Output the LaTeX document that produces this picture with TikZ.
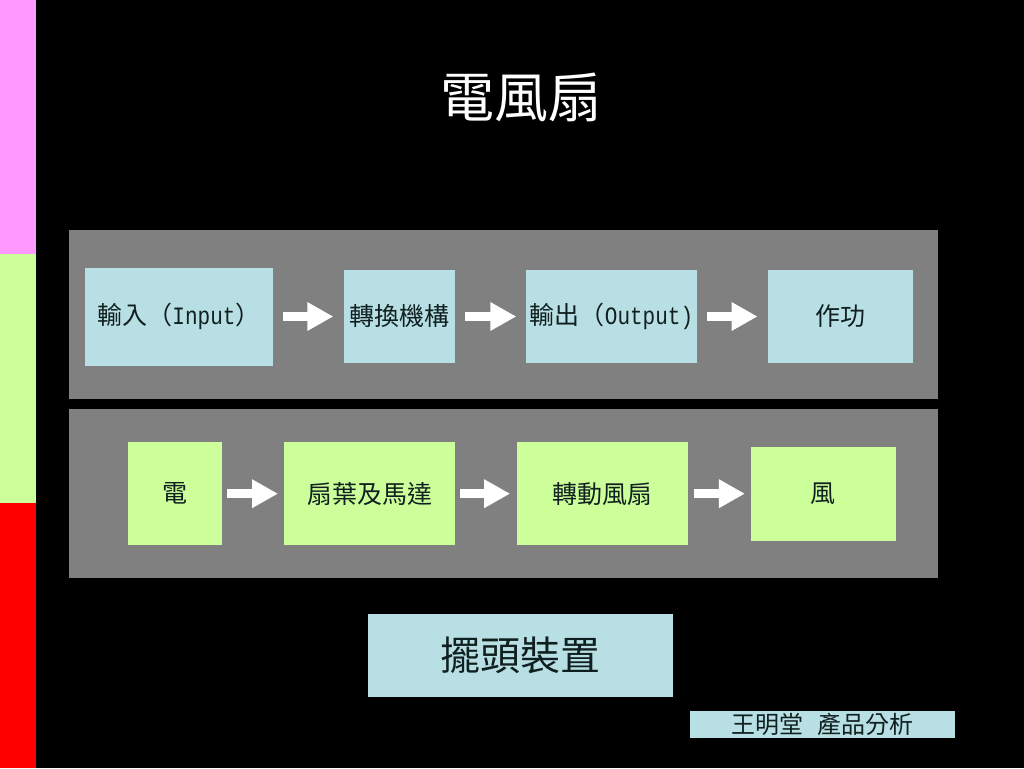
\documentclass[tikz,border=0pt]{standalone}
\usepackage{fontspec}
\newfontfamily\cjk{Noto Sans CJK TC}
\newfontfamily\lat[FakeStretch=0.84]{Liberation Mono}
\usetikzlibrary{arrows.meta}
\definecolor{panelgray}{HTML}{808080}
\definecolor{boxblue}{HTML}{B8DFE3}
\definecolor{boxgreen}{HTML}{CCFF99}
\definecolor{strippink}{HTML}{FF99FF}
\definecolor{darktext}{HTML}{102020}
\begin{document}
\begin{tikzpicture}[x=1pt,y=-1pt,
  panel/.style={fill=panelgray, inner sep=0pt, anchor=north west, minimum width=869pt, minimum height=169pt},
  boxbase/.style={inner sep=0pt, text=darktext, font=\cjk\fontsize{25}{28}\selectfont},
  bbox/.style={boxbase, fill=boxblue},
  gbox/.style={boxbase, fill=boxgreen},
  flow/.style={draw=white, line width=9pt, -{Triangle[length=26pt,width=27pt]}},
]
\fill[black] (0,0) rectangle (1024,768);
\useasboundingbox (0,0) rectangle (1024,768);
% side strip
\fill[strippink] (0,0) rectangle (36,254);
\fill[boxgreen] (0,254) rectangle (36,503);
\fill[red] (0,503) rectangle (36,768);
% title
\node[font=\cjk\fontsize{54}{60}\selectfont, text=white] (title) at (521,97) {電風扇};
% panels
\node[panel] (p1) at (69,230) {};
\node[panel] (p2) at (69,409) {};
% row 1
\node[bbox, minimum width=188pt, minimum height=98pt] (in) at (179,316.5) {輸入（{\lat Input}）};
\node[bbox, minimum width=111pt, minimum height=93pt] (conv) at (399.5,316.5) {轉換機構};
\node[bbox, minimum width=171pt, minimum height=93pt] (out) at (611.5,316.5) {輸出（{\lat Output)}};
\node[bbox, minimum width=144.5pt, minimum height=93pt] (work) at (840.5,316.5) {作功};
\draw[flow, shorten <=10pt, shorten >=10.5pt] (in.east) -- (conv.west);
\draw[flow, shorten <=10pt, shorten >=9.5pt] (conv.east) -- (out.west);
\draw[flow, shorten <=10pt, shorten >=10.5pt] (out.east) -- (work.west);
% row 2
\node[gbox, minimum width=94pt, minimum height=103pt] (elec) at (175,493.7) {電};
\node[gbox, minimum width=171pt, minimum height=103pt] (motor) at (369.7,493.7) {扇葉及馬達};
\node[gbox, minimum width=171pt, minimum height=103pt] (rot) at (602.8,493.7) {轉動風扇};
\node[gbox, minimum width=145pt, minimum height=94pt] (wind) at (823.3,493.7) {風};
\draw[flow, shorten <=5pt, shorten >=6pt] (elec.east) -- (motor.west);
\draw[flow, shorten <=5pt, shorten >=7pt] (motor.east) -- (rot.west);
\draw[flow, shorten <=5.7pt, shorten >=5.7pt] (rot.east) -- (wind.west);
% bottom
\node[bbox, font=\cjk\fontsize{40}{44}\selectfont, minimum width=305pt, minimum height=83pt] (swing) at (520.5,655.5) {擺頭裝置};
\node[bbox, font=\cjk\fontsize{24}{26}\selectfont, minimum width=265pt, minimum height=27pt] (foot) at (822.5,724.5) {王明堂\hspace{14pt}產品分析};
\end{tikzpicture}
\end{document}
